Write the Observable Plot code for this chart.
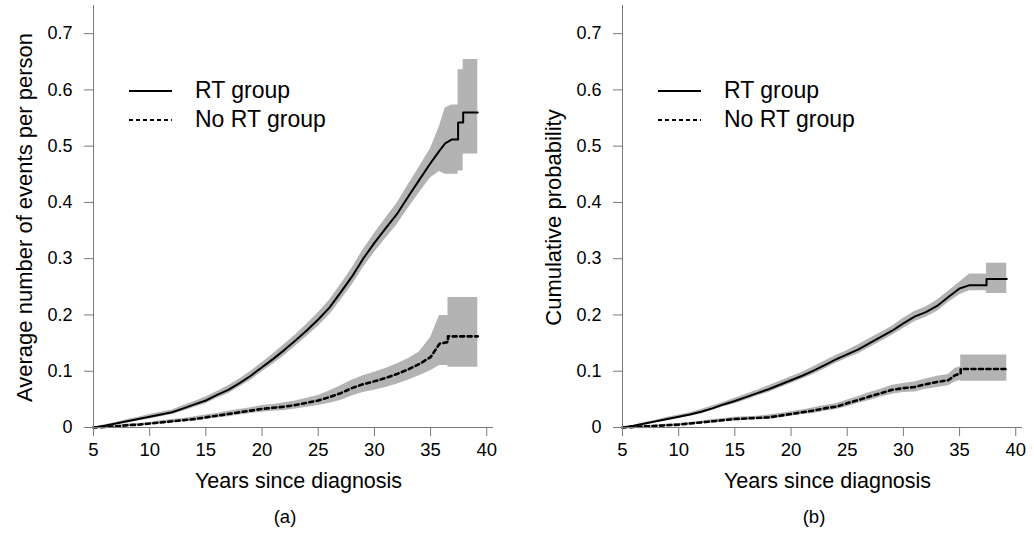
<!DOCTYPE html>
<html>
<head>
<meta charset="utf-8">
<script src="https://cdn.jsdelivr.net/npm/d3@7"></script>
<script src="https://cdn.jsdelivr.net/npm/@observablehq/plot@0.6"></script>
<style>
  html, body { margin: 0; padding: 0; background: #fff; }
  #wrap { position: relative; width: 1034px; height: 533px; overflow: hidden; font-family: "Liberation Sans", Arial, sans-serif; }
  .panel { position: absolute; top: 0; }
  .legend { position: absolute; font-size: 23px; color: #000; }
  .legend .row { position: absolute; white-space: nowrap; }
  .legend svg { position: absolute; }
  .cap { position: absolute; font-size: 18.5px; transform: translateX(-50%); white-space: nowrap; }
</style>
</head>
<body>
<div id="wrap"></div>
<script>
// ---------- data ----------
const xTicks = [5, 10, 15, 20, 25, 30, 35, 40];
const yTicks = [0, 0.1, 0.2, 0.3, 0.4, 0.5, 0.6, 0.7];
const yTickLabels = ["0", "0.1", "0.2", "0.3", "0.4", "0.5", "0.6", "0.7"];
const seriesNames = ["RT group", "No RT group"];
const xTitle = "Years since diagnosis";
const yTitleA = "Average number of events per person";
const yTitleB = "Cumulative probability";

// Panel (a): RT group
const aRtYear = [5,6,7,8,9,10,11,12,13,14,15,16,17,18,19,20,21,22,23,24,25,26,27,28,29,30,31,32,33,34,35,35.8,36.3,36.9,37.45,37.45,37.9,37.9,39.2];
const aRtMean = [0,.003,.007,.011,.015,.019,.023,.027,.034,.041,.048,.058,.067,.079,.092,.107,.122,.138,.155,.173,.192,.213,.240,.268,.300,.328,.354,.379,.410,.440,.470,.492,.505,.512,.512,.542,.542,.560,.560];
const aRtLow  = [0,.001,.005,.008,.012,.015,.019,.023,.029,.036,.042,.052,.060,.072,.084,.099,.113,.128,.145,.162,.180,.200,.226,.253,.284,.311,.336,.360,.389,.417,.444,.455,.450,.450,.450,.456,.456,.486,.486];
const aRtHigh = [0,.005,.009,.014,.018,.023,.027,.031,.039,.046,.054,.064,.074,.086,.100,.115,.131,.148,.165,.184,.204,.226,.254,.283,.316,.345,.372,.398,.431,.463,.496,.536,.568,.573,.573,.636,.636,.654,.654];

// Panel (a): No RT group
const aNoYear = [5,6,7,8,9,10,11,12,13,14,15,16,17,18,19,20,21,22,23,24,25,26,27,28,29,30,31,32,33,34,35,35.8,36.55,36.55,39.2];
const aNoMean = [0,.001,.002,.004,.005,.007,.009,.011,.013,.015,.018,.021,.024,.027,.030,.033,.035,.037,.040,.044,.048,.054,.061,.070,.077,.082,.088,.095,.103,.113,.125,.149,.152,.162,.162];
const aNoLow  = [0,0,.001,.002,.003,.005,.006,.008,.010,.011,.014,.017,.019,.022,.025,.027,.029,.030,.033,.036,.039,.043,.048,.056,.062,.066,.071,.077,.084,.092,.101,.110,.110,.107,.107];
const aNoHigh = [0,.002,.003,.006,.007,.009,.012,.014,.016,.019,.022,.025,.029,.032,.035,.039,.041,.044,.047,.052,.057,.065,.074,.084,.092,.098,.105,.113,.122,.134,.160,.199,.199,.231,.231];

// Panel (b): RT group
const bRtYear = [5,6,7,8,9,10,11,12,13,14,15,16,17,18,19,20,21,22,23,24,25,26,27,28,29,30,31,32,33,34,35,35.9,37.4,37.4,39.2];
const bRtMean = [0,.003,.007,.011,.015,.019,.023,.028,.034,.041,.047,.054,.061,.068,.076,.084,.092,.101,.111,.121,.130,.139,.150,.161,.172,.185,.197,.205,.216,.232,.247,.253,.253,.264,.264];
const bRtLow  = [0,.002,.005,.009,.012,.016,.020,.024,.030,.037,.042,.049,.056,.062,.070,.078,.086,.094,.104,.114,.123,.131,.142,.153,.164,.176,.188,.196,.206,.222,.236,.243,.243,.238,.238];
const bRtHigh = [0,.004,.009,.013,.018,.022,.026,.032,.038,.045,.052,.059,.066,.074,.082,.090,.098,.108,.118,.128,.137,.147,.158,.169,.180,.194,.206,.214,.226,.242,.258,.273,.273,.292,.292];

// Panel (b): No RT group
const bNoYear = [5,6,7,8,9,10,11,12,13,14,15,16,17,18,19,20,21,22,23,24,25,26,27,28,29,30,31,32,33,34,34.6,35.1,35.1,39.2];
const bNoMean = [0,.001,.002,.003,.004,.005,.007,.009,.011,.013,.015,.016,.017,.018,.021,.024,.027,.030,.034,.037,.043,.049,.055,.061,.067,.070,.072,.077,.081,.084,.093,.096,.104,.104];
const bNoLow  = [0,0,.001,.002,.002,.003,.005,.007,.008,.010,.012,.013,.014,.014,.017,.020,.023,.025,.029,.032,.037,.043,.048,.054,.059,.062,.063,.068,.071,.074,.081,.084,.082,.082];
const bNoHigh = [0,.002,.003,.004,.006,.007,.009,.011,.014,.016,.018,.019,.020,.022,.025,.028,.031,.035,.039,.042,.049,.055,.062,.068,.075,.078,.081,.086,.091,.094,.105,.108,.129,.129];

// ---------- helpers ----------
const rows = (year, mean, low, high) => year.map((x, i) => ({year: x, mean: mean[i], low: low[i], high: high[i]}));
const FONT = "'Liberation Sans', Arial, Helvetica, sans-serif";
const AXIS_GREY = "#7a7a7a";
const BAND = "#b3b3b3";

function panel({rt, no, yTitle, width, marginRight}) {
  return Plot.plot({
    width, height: 533,
    marginLeft: 93, marginRight, marginTop: 5, marginBottom: 106,
    x: {domain: [5, 40.6]},
    y: {domain: [0, 0.75]},
    style: {fontFamily: FONT, background: "white", color: "black", overflow: "visible"},
    marks: [
      Plot.areaY(rt, {x: "year", y1: "low", y2: "high", fill: BAND, curve: "linear"}),
      Plot.areaY(no, {x: "year", y1: "low", y2: "high", fill: BAND, curve: "linear"}),
      Plot.lineY(rt, {x: "year", y: "mean", stroke: "black", strokeWidth: 2, curve: "linear"}),
      Plot.lineY(no, {x: "year", y: "mean", stroke: "black", strokeWidth: 2.6, strokeDasharray: "4,3.5", curve: "linear"}),
      Plot.ruleY([yTicks[0]], {stroke: AXIS_GREY, strokeWidth: 1}),
      Plot.ruleX([xTicks[0]], {stroke: AXIS_GREY, strokeWidth: 1}),
      Plot.axisX({ticks: xTicks, tickSize: 9, tickPadding: 6, fontSize: 18.5, stroke: AXIS_GREY, fill: "black", label: null, tickFormat: d => String(d)}),
      Plot.axisY({ticks: yTicks, tickSize: 9, tickPadding: 12, fontSize: 18, stroke: AXIS_GREY, fill: "black", label: null, tickFormat: d => yTickLabels[yTicks.indexOf(d)]}),
      Plot.text([xTitle], {frameAnchor: "bottom", textAnchor: "middle", dx: 5, dy: 60, fontSize: 21.5, fill: "black"}),
      Plot.text([yTitle], {frameAnchor: "left", textAnchor: "middle", lineAnchor: "middle", rotate: -90, dx: -69, dy: 1, fontSize: 22, fill: "black"})
    ]
  });
}

const wrap = document.getElementById("wrap");

function addPanel(left, opts, caption, legendLeft) {
  const div = document.createElement("div");
  div.className = "panel";
  div.style.left = left + "px";
  div.appendChild(panel(opts));
  wrap.appendChild(div);

  // legend overlay
  const lg = document.createElement("div");
  lg.className = "legend";
  lg.style.left = legendLeft + "px";
  lg.style.top = "0px";
  seriesNames.forEach((name, i) => {
    const y = i === 0 ? 91 : 120;
    const svg = document.createElementNS("http://www.w3.org/2000/svg", "svg");
    svg.setAttribute("width", "44"); svg.setAttribute("height", "6");
    svg.style.left = "0px"; svg.style.top = (y - 3) + "px";
    const ln = document.createElementNS("http://www.w3.org/2000/svg", "line");
    ln.setAttribute("x1", "0"); ln.setAttribute("x2", "43"); ln.setAttribute("y1", "3"); ln.setAttribute("y2", "3");
    ln.setAttribute("stroke", "black");
    ln.setAttribute("stroke-width", i === 0 ? "2" : "1.8");
    if (i === 1) ln.setAttribute("stroke-dasharray", "4,3");
    svg.appendChild(ln);
    lg.appendChild(svg);
    const t = document.createElement("div");
    t.className = "row";
    t.textContent = name;
    t.style.left = "66px";
    t.style.top = (y - 14) + "px";
    t.style.lineHeight = "26px";
    lg.appendChild(t);
  });
  wrap.appendChild(lg);

  const c = document.createElement("div");
  c.className = "cap";
  c.textContent = caption;
  c.style.left = (left + 285) + "px";
  c.style.top = "506px";
  wrap.appendChild(c);
}

addPanel(0, {rt: rows(aRtYear, aRtMean, aRtLow, aRtHigh), no: rows(aNoYear, aNoMean, aNoLow, aNoHigh), yTitle: yTitleA, width: 529, marginRight: 36}, "(a)", 129);
addPanel(529, {rt: rows(bRtYear, bRtMean, bRtLow, bRtHigh), no: rows(bNoYear, bNoMean, bNoLow, bNoHigh), yTitle: yTitleB, width: 505, marginRight: 12}, "(b)", 658);
</script>
</body>
</html>
